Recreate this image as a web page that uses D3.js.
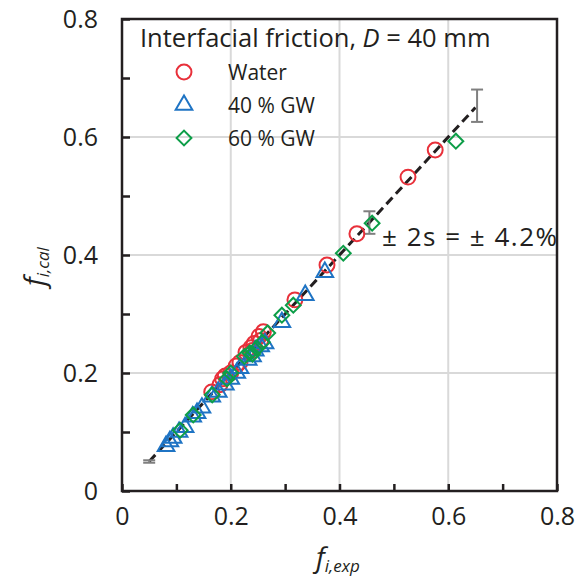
<!DOCTYPE html>
<html>
<head>
<meta charset="utf-8">
<script src="https://cdn.jsdelivr.net/npm/d3@7"></script>
<style>
  body { margin: 0; background: #fff; }
  text { font-family: "Open Sans", "Noto Sans", sans-serif; fill: #231f20; }
</style>
</head>
<body>
<svg id="chart" width="588" height="581"></svg>
<script>
// measured (x = f_i,exp) vs calculated (y = f_i,cal) interfacial friction
const water = [
  [0.576, 0.578], [0.526, 0.532], [0.432, 0.436], [0.377, 0.383], [0.318, 0.324],
  [0.260, 0.270], [0.252, 0.262], [0.243, 0.250], [0.237, 0.243], [0.228, 0.235],
  [0.217, 0.218], [0.210, 0.212], [0.200, 0.200], [0.190, 0.195], [0.185, 0.190],
  [0.180, 0.180], [0.165, 0.168], [0.240, 0.238], [0.255, 0.255]
];
const gw40 = [
  [0.373, 0.371], [0.337, 0.332], [0.294, 0.286], [0.263, 0.250], [0.255, 0.245],
  [0.245, 0.238], [0.240, 0.228], [0.232, 0.222], [0.217, 0.208], [0.211, 0.200],
  [0.200, 0.190], [0.190, 0.180], [0.177, 0.168], [0.165, 0.160], [0.147, 0.141],
  [0.138, 0.132], [0.130, 0.126], [0.116, 0.108], [0.105, 0.100], [0.094, 0.090],
  [0.088, 0.084], [0.081, 0.076]
];
const gw60 = [
  [0.614, 0.593], [0.460, 0.454], [0.407, 0.403], [0.315, 0.315], [0.294, 0.298],
  [0.268, 0.268], [0.248, 0.242], [0.235, 0.234], [0.225, 0.228], [0.193, 0.190],
  [0.166, 0.163], [0.131, 0.129], [0.107, 0.103], [0.258, 0.252], [0.240, 0.232],
  [0.200, 0.200]
];
// 1:1 line and ±2s bars
const perfectLine = [[0.05, 0.05], [0.65, 0.65]];
const errX = [0.05, 0.455, 0.653];
const errPct = 0.042;

const legendItems = [
  { name: 'Water', shape: 'circle', color: '#e8303a' },
  { name: '40 % GW', shape: 'triangle', color: '#1f74c4' },
  { name: '60 % GW', shape: 'diamond', color: '#0d9e48' }
];

const svg = d3.select('#chart');
const x = d3.scaleLinear().domain([0, 0.8]).range([122, 557]);
const y = d3.scaleLinear().domain([0, 0.8]).range([491, 19]);

// grid
const gridTicks = [0.2, 0.4, 0.6];
svg.append('g').selectAll('line').data(gridTicks).join('line')
  .attr('x1', d => x(d)).attr('x2', d => x(d)).attr('y1', y(0)).attr('y2', y(0.8))
  .attr('stroke', '#d9d9d9').attr('stroke-width', 2);
svg.append('g').selectAll('line').data(gridTicks).join('line')
  .attr('y1', d => y(d)).attr('y2', d => y(d)).attr('x1', x(0)).attr('x2', x(0.8))
  .attr('stroke', '#d9d9d9').attr('stroke-width', 2);

// frame
svg.append('rect')
  .attr('x', x(0)).attr('y', y(0.8))
  .attr('width', x(0.8) - x(0)).attr('height', y(0) - y(0.8))
  .attr('fill', 'none').attr('stroke', '#231f20').attr('stroke-width', 2.5);

// axes with inward ticks, labels only on even tenths
const minor = d3.range(0, 0.81, 0.1);
const lbl = d => (Math.round(d * 10) % 2 === 0 ? d3.format('.1~f')(d) : '');
const xAxis = d3.axisBottom(x).tickValues(minor).tickSize(-7).tickFormat(lbl).tickPadding(16);
const yAxis = d3.axisLeft(y).tickValues(minor).tickSize(-8).tickFormat(lbl).tickPadding(24);

const gx = svg.append('g').attr('transform', `translate(0,${y(0)})`).call(xAxis);
const gy = svg.append('g').attr('transform', `translate(${x(0)},0)`).call(yAxis);
[gx, gy].forEach(g => {
  g.select('.domain').remove();
  g.selectAll('.tick line').attr('stroke', '#231f20').attr('stroke-width', 2.5);
  g.selectAll('.tick text').attr('font-size', 25).attr('fill', '#231f20')
    .style('font-family', '"Open Sans", sans-serif');
});

// axis titles
const xt = svg.append('text').attr('x', 316).attr('y', 567).attr('font-style', 'italic');
xt.append('tspan').attr('font-size', 28).text('f');
xt.append('tspan').attr('font-size', 17).attr('dy', 5).text('i,exp');

const yt = svg.append('text').attr('transform', 'translate(44,286) rotate(-90)').attr('font-style', 'italic');
yt.append('tspan').attr('font-size', 28).text('f');
yt.append('tspan').attr('font-size', 17).attr('dy', 5).text('i,cal');

// 1:1 dashed line
svg.append('path')
  .datum(perfectLine)
  .attr('d', d3.line().x(d => x(d[0])).y(d => y(d[1])))
  .attr('fill', 'none').attr('stroke', '#231f20').attr('stroke-width', 3)
  .attr('stroke-dasharray', '9,5');

// error bars
const eb = svg.append('g').attr('stroke', '#7f7f7f').attr('stroke-width', 2);
errX.forEach(v => {
  const lo = y(v * (1 - errPct)), hi = y(v * (1 + errPct));
  eb.append('line').attr('x1', x(v)).attr('x2', x(v)).attr('y1', lo).attr('y2', hi);
  eb.append('line').attr('x1', x(v) - 6).attr('x2', x(v) + 6).attr('y1', lo).attr('y2', lo);
  eb.append('line').attr('x1', x(v) - 6).attr('x2', x(v) + 6).attr('y1', hi).attr('y2', hi);
});

svg.append('text').attr('x', 382).attr('y', 246).attr('font-size', 26)
  .attr('textLength', 175).attr('lengthAdjust', 'spacing')
  .text('\u00b1 2s = \u00b1 4.2%');

// markers
const sym = {
  circle: d3.symbol().type(d3.symbolCircle).size(175),
  triangle: d3.symbol().type(d3.symbolTriangle).size(120),
  diamond: d3.symbol().type(d3.symbolSquare).size(110)
};
function drawSeries(data, item) {
  svg.append('g').selectAll('path').data(data).join('path')
    .attr('d', sym[item.shape]())
    .attr('transform', d => `translate(${x(d[0])},${y(d[1])})` + (item.shape === 'diamond' ? ' rotate(45)' : ''))
    .attr('fill', 'none').attr('stroke', item.color).attr('stroke-width', 2);
}
drawSeries(water, legendItems[0]);
drawSeries(gw40, legendItems[1]);
drawSeries(gw60, legendItems[2]);

// legend
const title = svg.append('text').attr('x', 140).attr('y', 47).attr('font-size', 25.5);
title.append('tspan').text('Interfacial friction, ');
title.append('tspan').attr('font-style', 'italic').text('D');
title.append('tspan').text(' = 40 mm');

const lg = svg.append('g');
legendItems.forEach((item, i) => {
  const cy = 72 + i * 33;
  lg.append('path')
    .attr('d', sym[item.shape]())
    .attr('transform', `translate(184,${cy})` + (item.shape === 'diamond' ? ' rotate(45)' : ''))
    .attr('fill', 'none').attr('stroke', item.color).attr('stroke-width', 2);
  lg.append('text').attr('x', 228).attr('y', cy + 8).attr('font-size', 21).text(item.name);
});
</script>
</body>
</html>
